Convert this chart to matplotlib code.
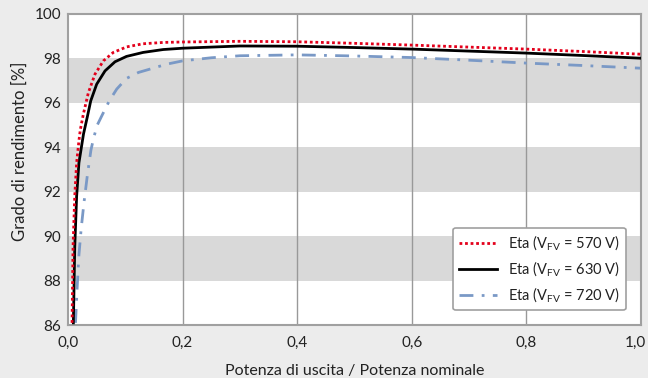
import matplotlib
matplotlib.use("Agg")
import matplotlib.pyplot as plt
from matplotlib.transforms import ScaledTranslation

plt.rcParams['font.family'] = ['Lato', 'DejaVu Sans']
plt.rcParams['mathtext.fontset'] = 'custom'
plt.rcParams['mathtext.rm'] = 'Lato'

# efficiency curves
x_570 = [0.007, 0.0087, 0.0117, 0.015, 0.019, 0.0215, 0.0267, 0.0355, 0.047, 0.0617,
         0.079, 0.1024, 0.131, 0.166, 0.2, 0.3, 0.4, 0.5, 0.6, 0.7, 0.8, 0.9, 1.0]
eta_570 = [86.1, 89.5, 91.8, 93.3, 94.3, 94.8, 95.49, 96.46, 97.29, 97.89,
           98.27, 98.52, 98.66, 98.72, 98.74, 98.77, 98.75, 98.68, 98.6, 98.51, 98.42, 98.31, 98.19]

x_630 = [0.0093, 0.0117, 0.015, 0.019, 0.023, 0.027, 0.034, 0.0396, 0.050, 0.0646,
         0.082, 0.102, 0.131, 0.166, 0.2, 0.3, 0.4, 0.5, 0.6, 0.7, 0.8, 0.9, 1.0]
eta_630 = [86.1, 89.5, 91.8, 93.3, 93.95, 94.6, 95.41, 96.09, 96.84, 97.44,
           97.85, 98.09, 98.27, 98.40, 98.46, 98.56, 98.55, 98.49, 98.42, 98.33, 98.24, 98.13, 98.01]

x_720 = [0.013, 0.016, 0.019, 0.023, 0.028, 0.034, 0.040, 0.045, 0.051, 0.0588,
         0.072, 0.085, 0.102, 0.123, 0.143, 0.172, 0.2, 0.25, 0.3, 0.4, 0.5, 0.6,
         0.7, 0.8, 0.9, 1.0]
eta_720 = [86.1, 87.73, 89.15, 90.36, 91.55, 92.8, 93.88, 94.45, 95.0, 95.41,
           96.09, 96.62, 97.10, 97.37, 97.52, 97.74, 97.89, 98.03, 98.12, 98.16, 98.11, 98.04,
           97.92, 97.79, 97.68, 97.56]

labels = ['Eta (V$_{\\mathregular{FV}}$ = 570 V)',
          'Eta (V$_{\\mathregular{FV}}$ = 630 V)',
          'Eta (V$_{\\mathregular{FV}}$ = 720 V)']

xticks = [0.0, 0.2, 0.4, 0.6, 0.8, 1.0]
xticklabels = ['0,0', '0,2', '0,4', '0,6', '0,8', '1,0']
yticks = [86, 88, 90, 92, 94, 96, 98, 100]
bands = [(88, 90), (92, 94), (96, 98)]

bg = '#ececec'
fig = plt.figure(figsize=(6.48, 3.78), dpi=100, facecolor=bg)
ax = fig.add_axes([0.105, 0.140, 0.884, 0.823])
ax.set_facecolor('white')

for lo, hi in bands:
    ax.axhspan(lo, hi, color='#d9d9d9', lw=0, zorder=0)
for xv in xticks[1:-1]:
    ax.axvline(xv, color='#999999', lw=1, zorder=1)

ax.plot(x_570, eta_570, color='#e3001b', lw=2, ls=(0, (1, 1)), label=labels[0], zorder=4)
ax.plot(x_630, eta_630, color='black', lw=2, label=labels[1], zorder=3)
ax.plot(x_720, eta_720, color='#7a99c6', lw=2, ls=(0, (5, 3, 1, 3)), label=labels[2], zorder=2)

ax.set_xlim(0, 1)
ax.set_ylim(86, 100)
ax.set_xticks(xticks)
ax.set_xticklabels(xticklabels)
ax.set_yticks(yticks)
ax.tick_params(length=0, labelsize=11, colors='#222222')
ax.tick_params(axis='y', pad=5)
ax.tick_params(axis='x', pad=8)
# last x label sits against the figure edge, nudge it left a bit
last = ax.xaxis.get_major_ticks()[-1].label1
last.set_transform(last.get_transform() + ScaledTranslation(-5 / 100, 0, fig.dpi_scale_trans))
for sp in ax.spines.values():
    sp.set_color('#a0a0a0')
    sp.set_linewidth(1.5)

ax.set_xlabel('Potenza di uscita / Potenza nominale', fontsize=11.5, color='#222222')
ax.xaxis.set_label_coords(0.5, -0.125)
ax.set_ylabel('Grado di rendimento [%]', fontsize=12, color='#222222')
ax.yaxis.set_label_coords(-0.07, 0.56)

leg = ax.legend(loc='lower right', fontsize=10.5, frameon=True, fancybox=True,
                edgecolor='#a0a0a0', facecolor='white', framealpha=1,
                borderaxespad=1.0, handlelength=2.6, labelspacing=0.45)
leg.get_frame().set_linewidth(1.2)
for t in leg.get_texts():
    t.set_color('#222222')

fig.savefig('out.png', dpi=100, facecolor=bg)
